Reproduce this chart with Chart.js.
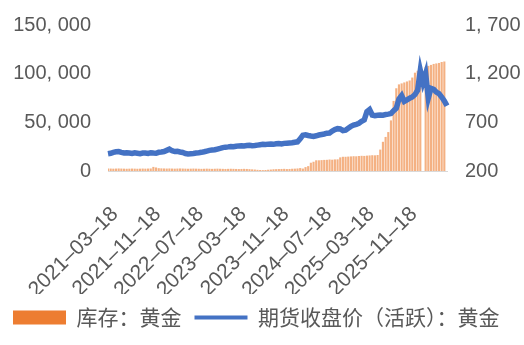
<!DOCTYPE html>
<html>
<head>
<meta charset="utf-8">
<script src="https://cdn.jsdelivr.net/npm/chart.js@4/dist/chart.umd.min.js"></script>
<style>
  html, body { margin: 0; padding: 0; background: #fff; }
  #wrap { width: 524px; height: 345px; }
</style>
</head>
<body>
<div id="wrap"><canvas id="c" width="524" height="345"></canvas></div>
<script>
// Semi-monthly observation dates (18th and 3rd of each month), 2021-03-18 onward
const dates = [];
(function () {
  let y = 2021, m = 3;
  for (let k = 0; k < 64; k++) {
    const mm = String(m).padStart(2, '0');
    dates.push(`${y}-${mm}-18`);
    m++; if (m > 12) { m = 1; y++; }
    const nm = String(m).padStart(2, '0');
    if (dates.length < 128) dates.push(`${y}-${nm}-03`);
  }
})();

// Dates that carry an axis label
const tickDates = ['2021-03-18', '2021-11-18', '2022-07-18', '2023-03-18',
                   '2023-11-18', '2024-07-18', '2025-03-18', '2025-11-18'];

// 库存：黄金 (kg)
const inventory = [
  2600, 2500, 2400, 2500, 2600, 2500, 2400, 2300, 2400, 2500, 2400, 2300, 2400, 2500, 2400, 2500, 2600,
  4200, 3600, 2900,
  2700, 2600, 2500, 2600, 2500, 2400, 2500, 2600, 2500, 2400, 2300, 2400, 2500, 2400, 2300, 2200, 2300, 2400,
  2300, 2200, 2300, 2400, 2300, 2200, 2100, 2200, 2300, 2200, 2100, 2000, 2100, 2200, 2100, 1900, 1700, 1500,
  1200, 1000, 900, 1000, 1300, 1500, 1800, 1900,
  2000, 2100, 2200, 2000, 2100, 2300, 2400, 2600, 3000, 2500, 4000,
  5000, 8500, 9500, 11000,
  11000, 11200, 11400, 11500, 11800, 11600, 11900, 12000, 14000,
  14600, 14600, 14800, 15000, 15200, 15100, 15400, 15600, 15500, 15800, 16000, 16200, 16100, 16400,
  22000, 30000, 35000, 40000, 52000, 72000, 85000, 89000, 90000, 91000, 92000, 93000, 96000, 101000,
  103000, 104000, null, 107000, 108000, 109000, 110000, 110500, 111000, 112000, 112500
];

// 期货收盘价（活跃）：黄金 (元/克)
const closePrice = [
  377, 382, 392, 398, 400, 392, 386, 388, 384, 380, 386, 382, 378, 385, 384, 380, 388, 384, 382, 392, 395,
  400, 412, 424, 408, 400, 402, 395, 390, 380, 376, 378, 380, 385, 388, 392, 398, 405, 412, 415, 418,
  425, 432, 440, 445, 448, 452, 450, 455, 458, 460, 457, 462, 465, 460, 462, 466, 470, 474, 472, 476,
  478, 474, 480, 482, 478, 484, 486, 488, 490, 496,
  500, 530, 568, 572, 565, 560, 556, 562, 570, 575, 580, 588, 590, 610, 625, 635, 632, 615, 620, 640, 658, 672,
  680, 690, 710, 725, 810, 832, 775, 768, 772, 776, 774, 780, 784, 790, 820, 845, 940, 975, 915, 930,
  948, 960, 985, 1030, 1234, 1110, 1200, 950, 1050, 1040, 1010, 995, 960, 920, 870
];

const ORANGE = '#ED7D31';
const BAR_FILL = 'rgba(237,125,49,0.6)';
const BLUE = '#4472C4';
const TEXT = '#595959';
const NUM_FONT = { family: "'Liberation Sans', Arial, sans-serif", size: 20 };

const withSpacedCommas = v => Number(v).toLocaleString('en-US').replace(/,/g, ', ');

new Chart(document.getElementById('c'), {
  data: {
    labels: dates,
    datasets: [
      {
        type: 'bar',
        label: '库存：黄金',
        data: inventory,
        backgroundColor: BAR_FILL,
        borderWidth: 0,
        barPercentage: 0.8,
        categoryPercentage: 1,
        yAxisID: 'y',
        order: 2
      },
      {
        type: 'line',
        label: '期货收盘价（活跃）：黄金',
        data: closePrice,
        borderColor: BLUE,
        borderWidth: 5.5,
        pointRadius: 0,
        tension: 0,
        yAxisID: 'y1',
        order: 1
      }
    ]
  },
  options: {
    responsive: false,
    animation: false,
    layout: { padding: { top: 25, left: 0, right: 0, bottom: 7 } },
    plugins: {
      tooltip: { enabled: false },
      legend: {
        position: 'bottom',
        align: 'start',
        labels: {
          usePointStyle: true,
          pointStyleWidth: 53,
          boxHeight: 14,
          padding: 13,
          color: TEXT,
          font: { family: "'Noto Sans CJK SC', sans-serif", size: 21 },
          generateLabels(chart) {
            return chart.data.datasets.map((ds, i) => ({
              text: ds.label,
              datasetIndex: i,
              fillStyle: i === 0 ? ORANGE : BLUE,
              strokeStyle: i === 0 ? ORANGE : BLUE,
              lineWidth: i === 0 ? 0 : 4,
              pointStyle: i === 0 ? 'rect' : 'line',
              fontColor: TEXT,
              hidden: false
            }));
          }
        }
      }
    },
    scales: {
      x: {
        type: 'category',
        offset: false,
        border: { display: true, color: '#D9D9D9', width: 1 },
        grid: {
          drawOnChartArea: false,
          drawTicks: true,
          tickLength: 7,
          color: ctx => (ctx.tick && tickDates.includes(dates[ctx.index])) ? '#D9D9D9' : 'rgba(0,0,0,0)'
        },
        ticks: {
          autoSkip: false,
          maxRotation: 45,
          minRotation: 45,
          padding: 24,
          labelOffset: 7,
          color: TEXT,
          font: { family: "'Liberation Sans', Arial, sans-serif", size: 21 },
          callback: (value, index) => tickDates.includes(dates[index]) ? dates[index].replace(/-/g, '–') : null
        },
        afterFit: scale => { scale.height = 123; }
      },
      y: {
        position: 'left',
        min: 0,
        max: 150000,
        border: { display: false },
        grid: { display: false, drawTicks: true, tickLength: 14 },
        ticks: {
          stepSize: 50000,
          padding: 3,
          color: TEXT,
          font: NUM_FONT,
          callback: v => withSpacedCommas(v)
        },
        afterFit: scale => { scale.width = 108; }
      },
      y1: {
        position: 'right',
        min: 200,
        max: 1700,
        border: { display: false },
        grid: { display: false, drawTicks: true, tickLength: 15 },
        ticks: {
          stepSize: 500,
          padding: 3,
          color: TEXT,
          font: NUM_FONT,
          callback: v => withSpacedCommas(v)
        },
        afterFit: scale => { scale.width = 77; }
      }
    }
  }
});
</script>
</body>
</html>
